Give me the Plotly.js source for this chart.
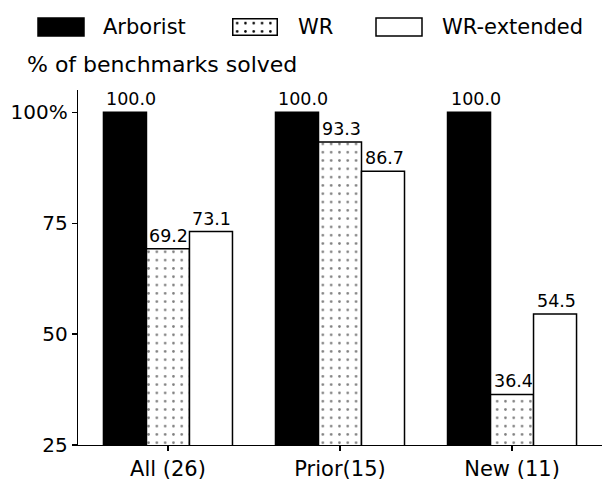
<!DOCTYPE html>
<html>
<head>
<meta charset="utf-8">
<script src="https://cdn.plot.ly/plotly-3.0.1.min.js"></script>
<style>html,body{margin:0;padding:0;background:#fff;}#chart{width:610px;height:487px;}</style>
</head>
<body>
<div id="chart"></div>
<script>
const categories = ["All (26)", "Prior(15)", "New (11)"];
const arborist = [100.0, 100.0, 100.0];
const wr = [69.2, 93.3, 36.4];
const wrExtended = [73.1, 86.7, 54.5];
const seriesNames = ["Arborist", "WR", "WR-extended"];
const yTickVals = [25, 50, 75, 100];
const yTickText = ["25", "50", "75", "100%"];
const yLabel = "% of benchmarks solved";

const FONT = "DejaVu Sans";
// plot area in pixels
const PL = 78, PR = 602, PT = 90, PB = 445;
const px = x => (x - PL) / (PR - PL);
const py = y => (PB - y) / (PB - PT);

const BARGAP = 0.25;
const lineStyle = {color: "black", width: 1.5};

const traces = [
  {type: "bar", name: seriesNames[0], x: categories, y: arborist,
   marker: {color: "black", line: lineStyle},
   showlegend: false, hoverinfo: "none"},
  {type: "bar", name: seriesNames[1], x: categories, y: wr,
   marker: {color: "white", line: lineStyle,
            pattern: {shape: ".", fgcolor: "black", bgcolor: "white", size: 8.3, solidity: 0.08, fillmode: "overlay"}},
   showlegend: false, hoverinfo: "none"},
  {type: "bar", name: seriesNames[2], x: categories, y: wrExtended,
   marker: {color: "white", line: lineStyle},
   showlegend: false, hoverinfo: "none"}
];

const dotSvg = "<svg xmlns='http://www.w3.org/2000/svg' width='46' height='18'>" +
  "<defs><pattern id='p' width='8.3' height='8.3' patternUnits='userSpaceOnUse' x='1' y='1'>" +
  "<circle cx='4.15' cy='4.15' r='1.3' fill='black'/></pattern></defs>" +
  "<rect x='0.75' y='0.75' width='44.5' height='16.5' fill='white'/>" +
  "<rect x='0.75' y='0.75' width='44.5' height='16.5' fill='url(#p)' stroke='black' stroke-width='1.5'/></svg>";
const dotSrc = "data:image/svg+xml;charset=utf-8," + encodeURIComponent(dotSvg);

const swY0 = 18, swY1 = 36, swCY = 27;
const swatches = [[38, 84], [232, 278], [376, 422]];
const labelX = [101, 296, 440];

const shapes = [
  {type: "rect", xref: "paper", yref: "paper", x0: px(swatches[0][0]), x1: px(swatches[0][1]), y0: py(swY1), y1: py(swY0),
   fillcolor: "black", line: {color: "black", width: 1.5}},
  {type: "rect", xref: "paper", yref: "paper", x0: px(swatches[2][0]), x1: px(swatches[2][1]), y0: py(swY1), y1: py(swY0),
   fillcolor: "white", line: {color: "black", width: 1.5}}
];

const images = [
  {source: dotSrc, xref: "paper", yref: "paper", x: px(swatches[1][0]), y: py(swY0),
   sizex: px(swatches[1][1]) - px(swatches[1][0]), sizey: py(swY0) - py(swY1),
   xanchor: "left", yanchor: "top", sizing: "stretch", layer: "above"}
];

const annotations = seriesNames.map((n, i) => ({
  text: n, xref: "paper", yref: "paper", x: px(labelX[i]), y: py(swCY),
  xanchor: "left", yanchor: "middle", showarrow: false,
  font: {family: FONT, size: 21, color: "black"}
}));
annotations.push({
  text: yLabel, xref: "paper", yref: "paper", x: px(25), y: py(64),
  xanchor: "left", yanchor: "middle", showarrow: false,
  font: {family: FONT, size: 22, color: "black"}
});

// value labels, left-aligned at each bar's left edge (as in the original)
const allSeries = [arborist, wr, wrExtended];
const nS = allSeries.length;
const barW = (1 - BARGAP) / nS;
allSeries.forEach((vals, j) => {
  vals.forEach((v, i) => {
    annotations.push({
      text: v.toFixed(1), xref: "x", yref: "y",
      x: i - (1 - BARGAP) / 2 + j * barW, y: v,
      xanchor: "left", yanchor: "bottom", xshift: 2, yshift: 2,
      showarrow: false, borderpad: 0,
      font: {family: FONT, size: 17.5, color: "black"}
    });
  });
});

const layout = {
  width: 610, height: 487,
  margin: {l: PL, r: 610 - PR, t: PT, b: 487 - PB, pad: 0},
  paper_bgcolor: "white", plot_bgcolor: "white",
  font: {family: FONT, color: "black"},
  barmode: "group", bargap: BARGAP, bargroupgap: 0,
  showlegend: false,
  xaxis: {range: [-0.523, 2.523], showline: true, linecolor: "black", linewidth: 1.2,
          ticks: "outside", ticklen: 5, tickwidth: 1.2, tickcolor: "black",
          showgrid: false, zeroline: false, tickfont: {family: FONT, size: 21, color: "black"}},
  yaxis: {range: [25, 105], showline: true, linecolor: "black", linewidth: 1.2,
          ticks: "outside", ticklen: 5, tickwidth: 1.2, tickcolor: "black",
          tickvals: yTickVals, ticktext: yTickText,
          showgrid: false, zeroline: false, tickfont: {family: FONT, size: 20, color: "black"}},
  shapes: shapes, images: images, annotations: annotations
};

Plotly.newPlot("chart", traces, layout, {staticPlot: true, displayModeBar: false});
</script>
</body>
</html>
